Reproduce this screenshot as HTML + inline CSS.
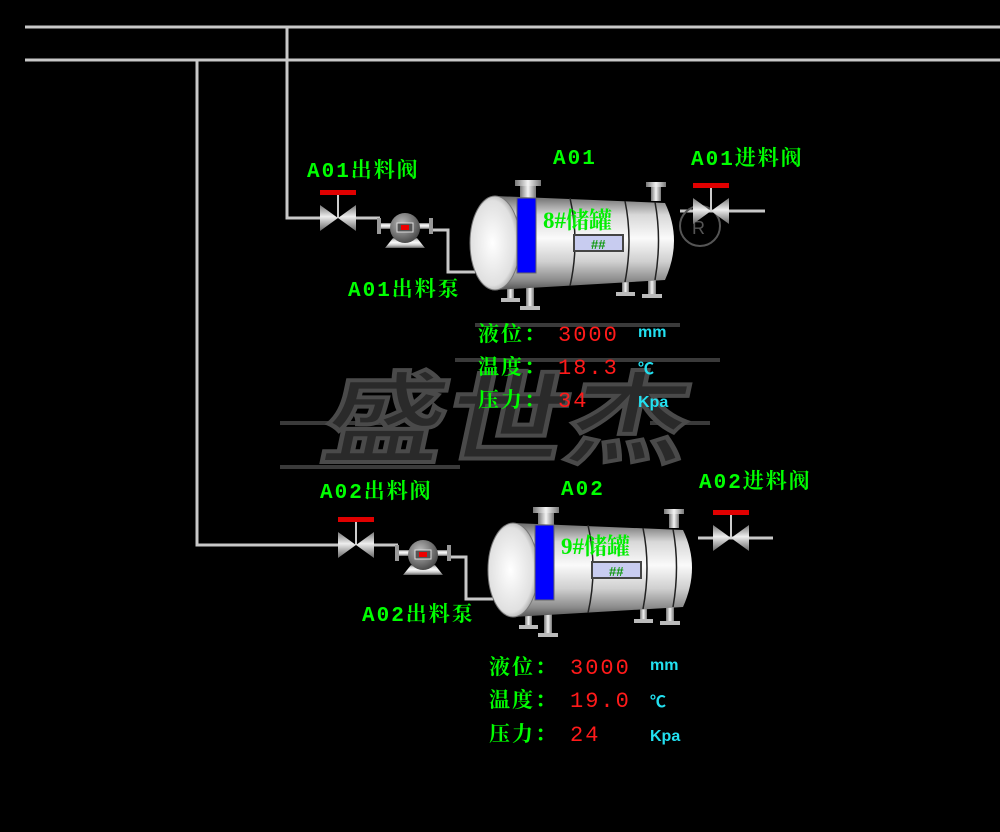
<!DOCTYPE html>
<html><head><meta charset="utf-8"><style>
html,body{margin:0;padding:0;background:#000;}
svg{display:block}
.g{fill:#00ff00;font-family:"Liberation Mono","Noto Serif CJK SC",monospace;font-size:21px;font-weight:bold;letter-spacing:2px}
.r{fill:#ff1a1a;font-family:"Liberation Mono",monospace;font-size:22px;letter-spacing:2px}
.c{fill:#22e0f0;font-family:"Liberation Sans","Noto Sans CJK SC",sans-serif;font-size:16px;font-weight:bold}
.p{stroke:#c8c8c8;stroke-width:3;fill:none}
</style></head><body>
<svg width="1000" height="832" viewBox="0 0 1000 832" xmlns="http://www.w3.org/2000/svg">
<defs>
<linearGradient id="met" x1="0" y1="0" x2="0" y2="1">
<stop offset="0" stop-color="#6a6a6a"/><stop offset="0.2" stop-color="#d8d8d8"/><stop offset="0.45" stop-color="#fafafa"/><stop offset="0.7" stop-color="#cfcfcf"/><stop offset="0.9" stop-color="#8a8a8a"/><stop offset="1" stop-color="#555"/></linearGradient>
<linearGradient id="vg" x1="0" y1="0" x2="0" y2="1">
<stop offset="0" stop-color="#777"/><stop offset="0.45" stop-color="#eee"/><stop offset="1" stop-color="#666"/></linearGradient>
<linearGradient id="metH" x1="0" y1="0" x2="1" y2="0">
<stop offset="0" stop-color="#777"/><stop offset="0.5" stop-color="#f4f4f4"/><stop offset="1" stop-color="#777"/></linearGradient>
<radialGradient id="endc" cx="0.45" cy="0.5" r="0.6"><stop offset="0" stop-color="#fff"/><stop offset="0.75" stop-color="#e0e0e0"/><stop offset="1" stop-color="#8a8a8a"/></radialGradient>
<radialGradient id="pg" cx="0.4" cy="0.35" r="0.7"><stop offset="0" stop-color="#bbb"/><stop offset="1" stop-color="#444"/></radialGradient>
<g id="valve">
<rect x="-18" y="-28" width="36" height="5" fill="#e00000"/>
<line x1="0" y1="-23" x2="0" y2="0" stroke="#ccc" stroke-width="2"/>
<path d="M-18,-13 L0,0 L-18,13 Z" fill="url(#vg)"/>
<path d="M18,-13 L0,0 L18,13 Z" fill="url(#vg)"/>
</g>
<g id="pump">
<rect x="-24" y="-5" width="48" height="6" fill="url(#met)"/>
<rect x="-28" y="-10" width="4" height="16" fill="#999"/>
<rect x="24" y="-10" width="4" height="16" fill="#999"/>
<path d="M-12,10 L12,10 L20,20 L-20,20 Z" fill="url(#met)"/>
<circle cx="0" cy="0" r="15" fill="url(#pg)"/>
<rect x="-8" y="-5" width="16" height="9" fill="#555" stroke="#ddd" stroke-width="1"/>
<rect x="-4" y="-3" width="8" height="5" fill="#e00"/>
</g>
<g id="tank">
<rect x="45" y="-2" width="26" height="6" fill="url(#metH)"/>
<rect x="50" y="4" width="16" height="14" fill="url(#metH)"/>
<rect x="176" y="0" width="20" height="5" fill="url(#metH)"/>
<rect x="181" y="5" width="10" height="14" fill="url(#metH)"/>
<rect x="37" y="95" width="7" height="23" fill="url(#metH)"/><rect x="31" y="116" width="19" height="4" fill="#bbb"/>
<rect x="56" y="100" width="8" height="26" fill="url(#metH)"/><rect x="50" y="124" width="20" height="4" fill="#bbb"/>
<rect x="152" y="90" width="7" height="22" fill="url(#metH)"/><rect x="146" y="110" width="19" height="4" fill="#bbb"/>
<rect x="178" y="88" width="8" height="26" fill="url(#metH)"/><rect x="172" y="112" width="20" height="4" fill="#bbb"/>
<path d="M25,14 L195,21 Q213,58 195,98 L25,108 Z" fill="url(#met)"/>
<path d="M100,16 Q110,60 100,104" stroke="#222" fill="none" stroke-width="1.5"/>
<path d="M155,19 Q163,58 155,100" stroke="#222" fill="none" stroke-width="1.5"/>
<path d="M185,20 Q192,58 185,98" stroke="#222" fill="none" stroke-width="1.5"/>
<ellipse cx="25" cy="61" rx="25" ry="47" fill="url(#endc)" stroke="#777"/>
<rect x="47" y="16" width="19" height="75" fill="#0000ff" stroke="#666"/>
<rect x="104" y="53" width="49" height="16" fill="#c8ccf0" stroke="#444" stroke-width="2"/>
<text x="121" y="67" fill="#119911" font-family="Liberation Sans,sans-serif" font-weight="bold" font-size="13">##</text>
</g>
</defs>

<!-- watermark -->
<g fill="#3a3a3a">
<rect x="475" y="323" width="205" height="4"/>
<rect x="455" y="358" width="265" height="4"/>
<rect x="280" y="421" width="120" height="4"/>
<rect x="650" y="421" width="60" height="4"/>
<rect x="280" y="465" width="180" height="4"/>
</g>
<text x="335" y="455" font-family="'Noto Sans CJK SC',sans-serif" font-size="100" font-weight="bold" fill="#2a2a2a" stroke="#4a4a4a" stroke-width="4" transform="skewX(-12) translate(80,0)" textLength="365" lengthAdjust="spacingAndGlyphs">盛世杰</text>

<!-- pipes -->
<line x1="25" y1="27" x2="1000" y2="27" class="p"/>
<line x1="25" y1="60" x2="1000" y2="60" class="p"/>
<polyline points="287,27 287,218 322,218" class="p"/>
<polyline points="356,218 380,218" class="p"/>
<polyline points="433,230 448,230 448,272 475,272" class="p"/>
<polyline points="680,211 765,211" class="p"/>
<polyline points="197,60 197,545 340,545" class="p"/>
<polyline points="374,545 398,545" class="p"/>
<polyline points="451,557 466,557 466,599 493,599" class="p"/>
<polyline points="698,538 773,538" class="p"/>

<!-- unit 1 -->
<use href="#valve" x="338" y="218"/>
<use href="#pump" x="405" y="228"/>
<use href="#tank" x="470" y="182"/>
<circle cx="700" cy="226" r="20" fill="none" stroke="#555" stroke-width="2"/>
<text x="692" y="234" fill="#555" font-family="Liberation Sans,sans-serif" font-size="18">R</text>
<use href="#valve" x="711" y="211"/>
<text x="543" y="228" fill="#00ee00" font-family="Liberation Serif,'Noto Serif CJK SC',serif" font-size="23" font-weight="bold">8#储罐</text>
<text x="307" y="177" class="g">A01出料阀</text>
<text x="553" y="164" class="g">A01</text>
<text x="691" y="165" class="g">A01进料阀</text>
<text x="348" y="296" class="g">A01出料泵</text>
<text x="478" y="341" class="g">液位：</text><text x="558" y="341" class="r">3000</text><text x="638" y="337" class="c">mm</text>
<text x="478" y="374" class="g">温度：</text><text x="558" y="374" class="r">18.3</text><text x="638" y="374" class="c">℃</text>
<text x="478" y="407" class="g">压力：</text><text x="558" y="407" class="r">34</text><text x="638" y="407" class="c">Kpa</text>

<!-- unit 2 -->
<use href="#valve" x="356" y="545"/>
<use href="#pump" x="423" y="555"/>
<use href="#tank" x="488" y="509"/>
<use href="#valve" x="731" y="538"/>
<text x="561" y="554" fill="#00ee00" font-family="Liberation Serif,'Noto Serif CJK SC',serif" font-size="23" font-weight="bold">9#储罐</text>
<text x="320" y="498" class="g">A02出料阀</text>
<text x="561" y="495" class="g">A02</text>
<text x="699" y="488" class="g">A02进料阀</text>
<text x="362" y="621" class="g">A02出料泵</text>
<text x="489" y="674" class="g">液位：</text><text x="570" y="674" class="r">3000</text><text x="650" y="670" class="c">mm</text>
<text x="489" y="707" class="g">温度：</text><text x="570" y="707" class="r">19.0</text><text x="650" y="707" class="c">℃</text>
<text x="489" y="741" class="g">压力：</text><text x="570" y="741" class="r">24</text><text x="650" y="741" class="c">Kpa</text>
</svg>
</body></html>
